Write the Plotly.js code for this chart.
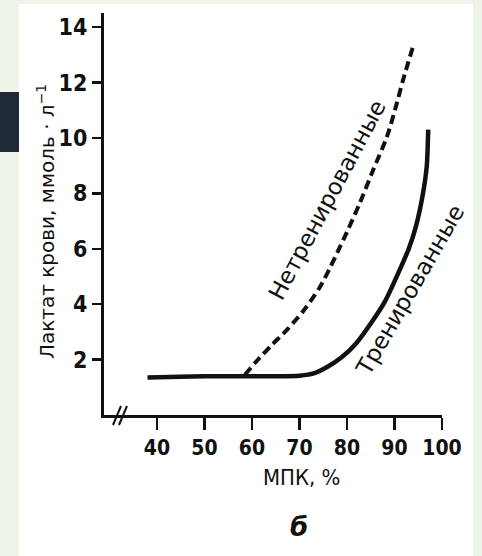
<!DOCTYPE html>
<html>
<head>
<meta charset="utf-8">
<script src="https://cdn.plot.ly/plotly-3.0.1.min.js"></script>
<style>
  html, body { margin: 0; padding: 0; width: 482px; height: 556px; overflow: hidden; background: #eef5e8; }
  #panel { position: absolute; left: 19px; top: 4px; width: 454px; height: 552px; background: #ffffff; }
  #tab { position: absolute; left: 0px; top: 92px; width: 19px; height: 60px; background: #1f2a36; }
  #chart { position: absolute; left: 0; top: 0; width: 482px; height: 556px; }
</style>
</head>
<body>
<div id="panel"></div>
<div id="tab"></div>
<div id="chart"></div>
<script>
// Trained (solid line)
const trainedX = [38, 45, 50, 55, 60, 65, 70, 73, 76, 79, 82, 85, 88, 91, 93, 94.5, 96, 96.8, 97.1];
const trainedY = [1.35, 1.38, 1.4, 1.4, 1.4, 1.4, 1.42, 1.5, 1.75, 2.1, 2.6, 3.3, 4.1, 5.2, 6.0, 6.8, 8.0, 9.0, 10.3];
// Untrained (dashed line)
const untrainedX = [58.5, 61, 64, 67.5, 71, 74.3, 76.4, 78.5, 80, 82.7, 85.5, 88.4, 90.5, 91.8, 93.9];
const untrainedY = [1.45, 1.95, 2.5, 3.1, 3.8, 4.62, 5.3, 6.06, 6.61, 7.65, 8.84, 10.04, 11.26, 12.09, 13.3];

const xTicks = [40, 50, 60, 70, 80, 90, 100];
const yTicks = [2, 4, 6, 8, 10, 12, 14];

const labelTrained = "Тренированные";
const labelUntrained = "Нетренированные";
const xTitle = "МПК, %";
const yTitle = "Лактат крови, ммоль · л<sup>−1</sup>";
const panelLetter = "б";

const ink = "#111111";
const tickFont = "DejaVu Sans Condensed, Liberation Sans Narrow, Arial, sans-serif";
const textFont = "DejaVu Sans, Liberation Sans, Arial, sans-serif";

const traces = [
  { x: trainedX, y: trainedY, type: "scatter", mode: "lines", name: labelTrained,
    line: { color: ink, width: 4.5, shape: "spline", smoothing: 0.6 } },
  { x: untrainedX, y: untrainedY, type: "scatter", mode: "lines", name: labelUntrained,
    line: { color: ink, width: 4, dash: "9px,5px", shape: "spline", smoothing: 0.8 } }
];

const layout = {
  width: 482, height: 556,
  margin: { l: 104, r: 40, t: 13, b: 141, pad: 0 },
  paper_bgcolor: "rgba(0,0,0,0)",
  plot_bgcolor: "rgba(0,0,0,0)",
  showlegend: false,
  xaxis: {
    range: [28.84, 100], tickvals: xTicks, ticktext: xTicks.map(String),
    showgrid: false, zeroline: false, showline: true, linecolor: ink, linewidth: 3,
    ticks: "outside", ticklen: 12, tickwidth: 2.5, tickcolor: ink,
    tickfont: { family: tickFont, size: 21, color: ink, weight: "bold" }
  },
  yaxis: {
    range: [0, 14.51], tickvals: yTicks, ticktext: yTicks.map(String),
    showgrid: false, zeroline: false, showline: true, linecolor: ink, linewidth: 3,
    ticks: "outside", ticklen: 9, tickwidth: 2.5, tickcolor: ink,
    tickfont: { family: tickFont, size: 23, color: ink, weight: "bold" }
  },
  annotations: [
    { text: labelUntrained, x: 75.8, y: 7.76, xref: "x", yref: "y", showarrow: false,
      textangle: -62, font: { family: textFont, size: 23, color: ink } },
    { text: labelTrained, x: 93.3, y: 4.5, xref: "x", yref: "y", showarrow: false,
      textangle: -60, font: { family: textFont, size: 23, color: ink } },
    { text: xTitle, x: (301 - 104) / 338, y: (415 - 477) / 402, xref: "paper", yref: "paper",
      showarrow: false, xanchor: "center", yanchor: "middle",
      font: { family: tickFont, size: 22, color: ink } },
    { text: panelLetter, x: (299 - 104) / 338, y: (415 - 527) / 402, xref: "paper", yref: "paper",
      showarrow: false, xanchor: "center", yanchor: "middle",
      font: { family: textFont, size: 26, color: ink, weight: "bold", style: "italic" } },
    { text: yTitle, x: (46 - 104) / 338, y: (415 - 222) / 402, xref: "paper", yref: "paper",
      showarrow: false, textangle: -90, xanchor: "center", yanchor: "middle",
      font: { family: textFont, size: 20, color: ink } }
  ],
  shapes: [
    { type: "line", xref: "paper", yref: "paper",
      x0: (113 - 104) / 338, y0: (415 - 425) / 402, x1: (121 - 104) / 338, y1: (415 - 406) / 402,
      line: { color: ink, width: 2 } },
    { type: "line", xref: "paper", yref: "paper",
      x0: (119 - 104) / 338, y0: (415 - 425) / 402, x1: (127 - 104) / 338, y1: (415 - 406) / 402,
      line: { color: ink, width: 2 } }
  ]
};

Plotly.newPlot("chart", traces, layout, { displayModeBar: false, staticPlot: true });
</script>
</body>
</html>
